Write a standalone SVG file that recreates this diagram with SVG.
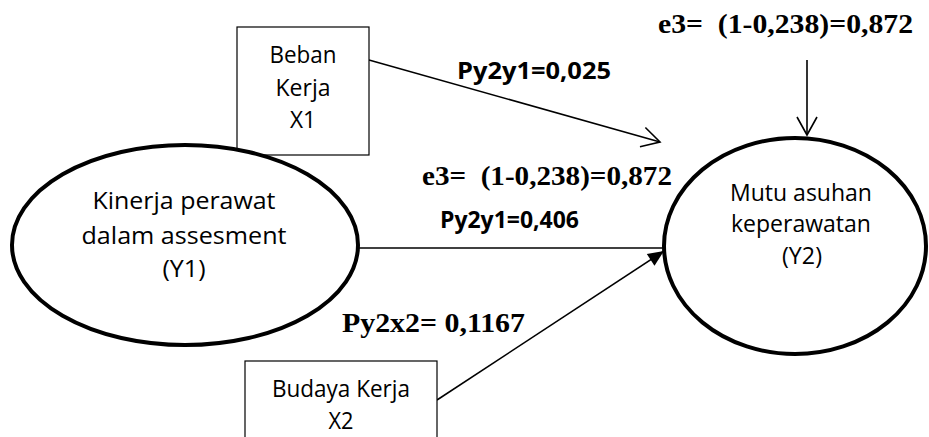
<svg xmlns="http://www.w3.org/2000/svg" width="929" height="437" viewBox="0 0 929 437">
  <style>
    .box { fill: #ffffff; stroke: #000000; stroke-width: 1.2; }
    .latent { fill: #ffffff; stroke: #000000; stroke-width: 4; }
    .edge { fill: none; stroke: #000000; stroke-width: 1.6; }
    .lbl { font-family: "Open Sans", Lato, "Liberation Sans", sans-serif; font-size: 23px; font-weight: 500; fill: #000000; text-anchor: middle; }
    .coef { font-family: "Open Sans", Lato, "Liberation Sans", sans-serif; font-weight: bold; font-size: 24px; fill: #000000; }
    .err { font-family: "Liberation Serif", "Times New Roman", Times, serif; font-weight: bold; font-size: 28px; fill: #000000; }
  </style>
  <defs>
    <marker id="open" markerUnits="userSpaceOnUse" markerWidth="40" markerHeight="40" refX="0" refY="0" orient="auto" overflow="visible">
      <path d="M-18,-10 L0,0 L-18,10" fill="none" stroke="#000000" stroke-width="1.6"/>
    </marker>
    <marker id="solid" markerUnits="userSpaceOnUse" markerWidth="40" markerHeight="40" refX="0" refY="0" orient="auto" overflow="visible">
      <path d="M-16,-7 L0,0 L-16,7 Z" fill="#000000" stroke="none"/>
    </marker>
  </defs>

  <!-- paths between constructs -->
  <g id="connectors">
    <line class="edge" x1="369" y1="60" x2="660" y2="142" marker-end="url(#open)"/>
    <line class="edge" x1="358" y1="248" x2="664" y2="248"/>
    <line class="edge" x1="437" y1="400" x2="664" y2="251" marker-end="url(#solid)"/>
    <line class="edge" x1="807" y1="60" x2="807" y2="135" marker-end="url(#open)"/>
  </g>

  <g id="node-x1">
    <rect class="box" x="237" y="27" width="132" height="128"/>
    <text class="lbl" x="303" y="63" textLength="67" lengthAdjust="spacingAndGlyphs">Beban</text>
    <text class="lbl" x="303" y="95.5" textLength="55" lengthAdjust="spacingAndGlyphs">Kerja</text>
    <text class="lbl" x="303" y="128" textLength="26" lengthAdjust="spacingAndGlyphs">X1</text>
  </g>

  <g id="node-y1">
    <ellipse class="latent" cx="185" cy="245" rx="173" ry="100"/>
    <text class="lbl" x="184" y="209" textLength="183" lengthAdjust="spacingAndGlyphs">Kinerja perawat</text>
    <text class="lbl" x="184" y="244" textLength="205" lengthAdjust="spacingAndGlyphs">dalam assesment</text>
    <text class="lbl" x="184" y="277" textLength="43" lengthAdjust="spacingAndGlyphs">(Y1)</text>
  </g>

  <g id="node-y2">
    <ellipse class="latent" cx="795" cy="246" rx="131" ry="108"/>
    <text class="lbl" x="801" y="201" textLength="142" lengthAdjust="spacingAndGlyphs">Mutu asuhan</text>
    <text class="lbl" x="801" y="232" textLength="140" lengthAdjust="spacingAndGlyphs">keperawatan</text>
    <text class="lbl" x="802" y="264" textLength="40" lengthAdjust="spacingAndGlyphs">(Y2)</text>
  </g>

  <g id="node-x2">
    <rect class="box" x="245" y="361" width="192" height="90"/>
    <text class="lbl" x="341" y="397" textLength="138" lengthAdjust="spacingAndGlyphs">Budaya Kerja</text>
    <text class="lbl" x="341" y="429" textLength="25" lengthAdjust="spacingAndGlyphs">X2</text>
  </g>

  <!-- coefficients and residual -->
  <g id="labels">
    <text class="err" x="658" y="33" textLength="255" lengthAdjust="spacingAndGlyphs" xml:space="preserve">e3=  (1-0,238)=0,872</text>
    <text class="coef" x="457" y="79" textLength="154" lengthAdjust="spacingAndGlyphs">Py2y1=0,025</text>
    <text class="err" x="422" y="185" textLength="250" lengthAdjust="spacingAndGlyphs" xml:space="preserve">e3=  (1-0,238)=0,872</text>
    <text class="coef" x="440" y="228" textLength="139" lengthAdjust="spacingAndGlyphs">Py2y1=0,406</text>
    <text class="err" x="342" y="332" font-size="30" textLength="183" lengthAdjust="spacingAndGlyphs">Py2x2= 0,1167</text>
  </g>
</svg>
